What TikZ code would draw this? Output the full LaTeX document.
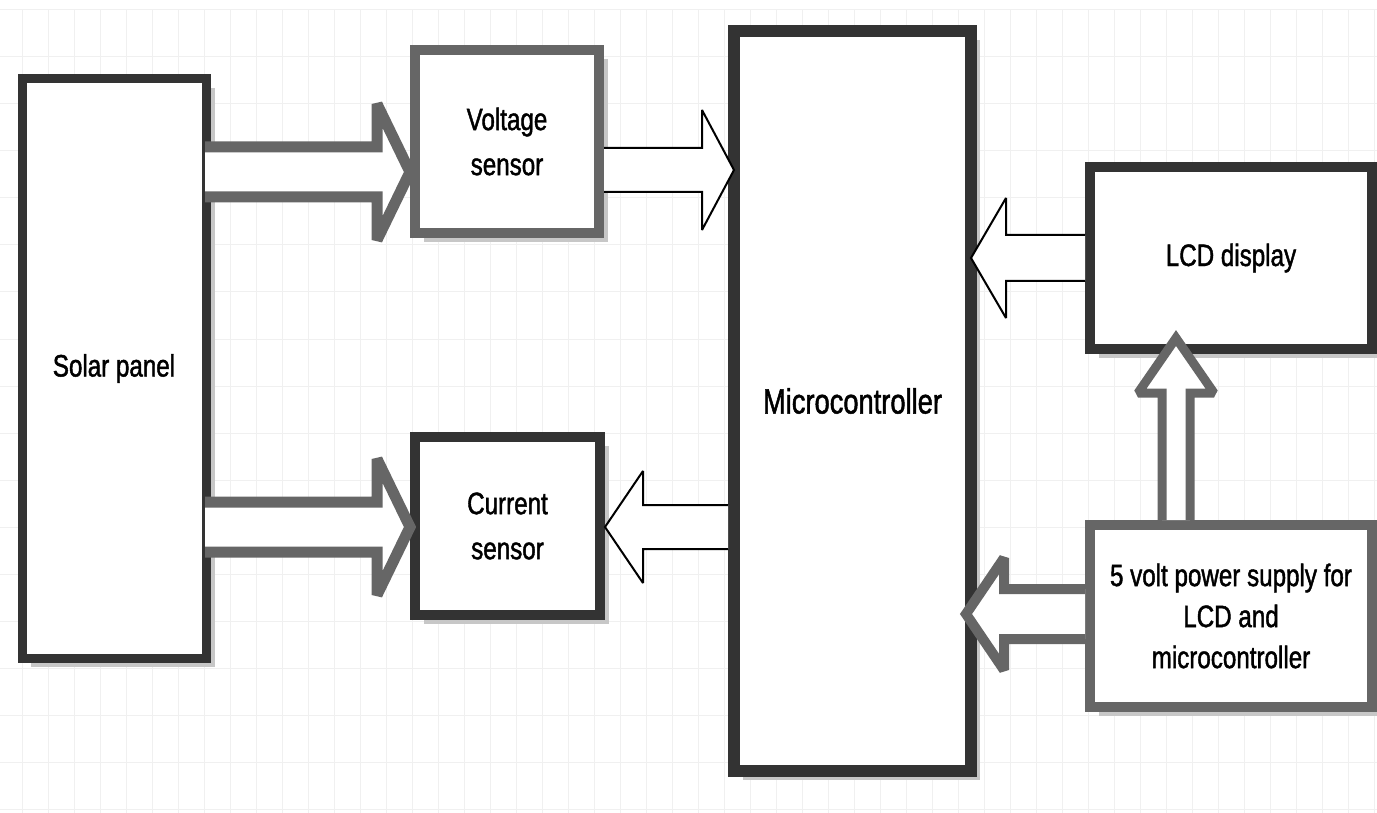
\documentclass[tikz,border=0pt]{standalone}
\usepackage{fontspec}
\setmainfont{Liberation Sans}[FakeStretch=0.78, FakeBold=1.4]
\usetikzlibrary{shadows}

\tikzset{
	darkbox/.style={draw=black!80, line width=9pt, fill=white, inner sep=0pt,
		align=center, font=\fontsize{31}{45}\selectfont,
		drop shadow={shadow xshift=9pt, shadow yshift=-9pt, fill=black!22, opacity=1}},
	graybox/.style={darkbox, draw=black!60},
	thinarrow/.style={draw=black, line width=2pt, fill=white, line join=miter, miter limit=2},
	thickarrow/.style={draw=black!60, line width=11pt, fill=white, line join=miter, miter limit=2},
	gridline/.style={black!6, line width=1pt}
}

% #1 style, #2 tip, #3 angle, #4 length, #5 half body, #6 half head, #7 head length
\newcommand{\blockarrow}[7]{%
	\draw[#1, shift={(#2)}, rotate=#3] (-#4,#5) -- (-#7,#5) -- (-#7,#6) -- (0,0)
		-- (-#7,-#6) -- (-#7,-#5) -- (-#4,-#5);
}

\begin{document}
\begin{tikzpicture}[x=1pt, y=-1pt]
	\fill[white] (0,0) rectangle (1377,813);
	\useasboundingbox (0,0) rectangle (1377,813);
	\foreach \gx in {22,48,...,1377} \draw[gridline] (\gx,10) -- (\gx,813);
	\foreach \gy in {10,57,...,813} \draw[gridline] (0,\gy) -- (1377,\gy);

	\node[darkbox, minimum width=184pt, minimum height=579pt] (solar) at (114,368.5) {Solar panel};
	\node[graybox, line width=10pt, minimum width=184pt, minimum height=183pt] (volt) at (507,141.5) {Voltage\\sensor};
	\node[darkbox, line width=10pt, minimum width=185pt, minimum height=178pt] (curr) at (507.5,526) {Current\\sensor};
	\node[darkbox, line width=12pt, minimum width=237pt, minimum height=740pt,
		font=\fontsize{35}{40}\selectfont] (micro) at (852.5,401) {Microcontroller};
	\node[darkbox, line width=10pt, minimum width=282pt, minimum height=182pt] (lcd) at (1231,258) {LCD display};
	\node[graybox, line width=10pt, minimum width=282pt, minimum height=182pt,
		font=\fontsize{31}{41}\selectfont] (power) at (1231,616) {5 volt power supply for\\LCD and\\microcontroller};

	\coordinate (tipvolt) at (volt.west |- 0,172);
	\coordinate (tipcurr) at (curr.west |- 0,527);
	\coordinate (tipmicroa) at (734,170);
	\coordinate (tipcurrb) at (605,527);
	\coordinate (tipmicrob) at (971,258);
	\coordinate (tipmicroc) at (966,614);
	\coordinate (tiplcd) at (1176,338);

	\blockarrow{thickarrow}{tipvolt}{0}{205}{25}{68}{33}
	\blockarrow{thickarrow}{tipcurr}{0}{205}{25}{68}{33}
	\blockarrow{thinarrow}{tipmicroa}{0}{130}{22}{60}{32}
	\blockarrow{thinarrow}{tipcurrb}{180}{123}{22}{56}{38}
	\blockarrow{thinarrow}{tipmicrob}{180}{114}{23}{60}{35}
	\blockarrow{thickarrow, line width=10pt}{tipmicroc}{180}{119}{25}{56}{38}
	\blockarrow{thickarrow, line width=9pt}{tiplcd}{90}{182}{14}{38}{55}
\end{tikzpicture}
\end{document}
